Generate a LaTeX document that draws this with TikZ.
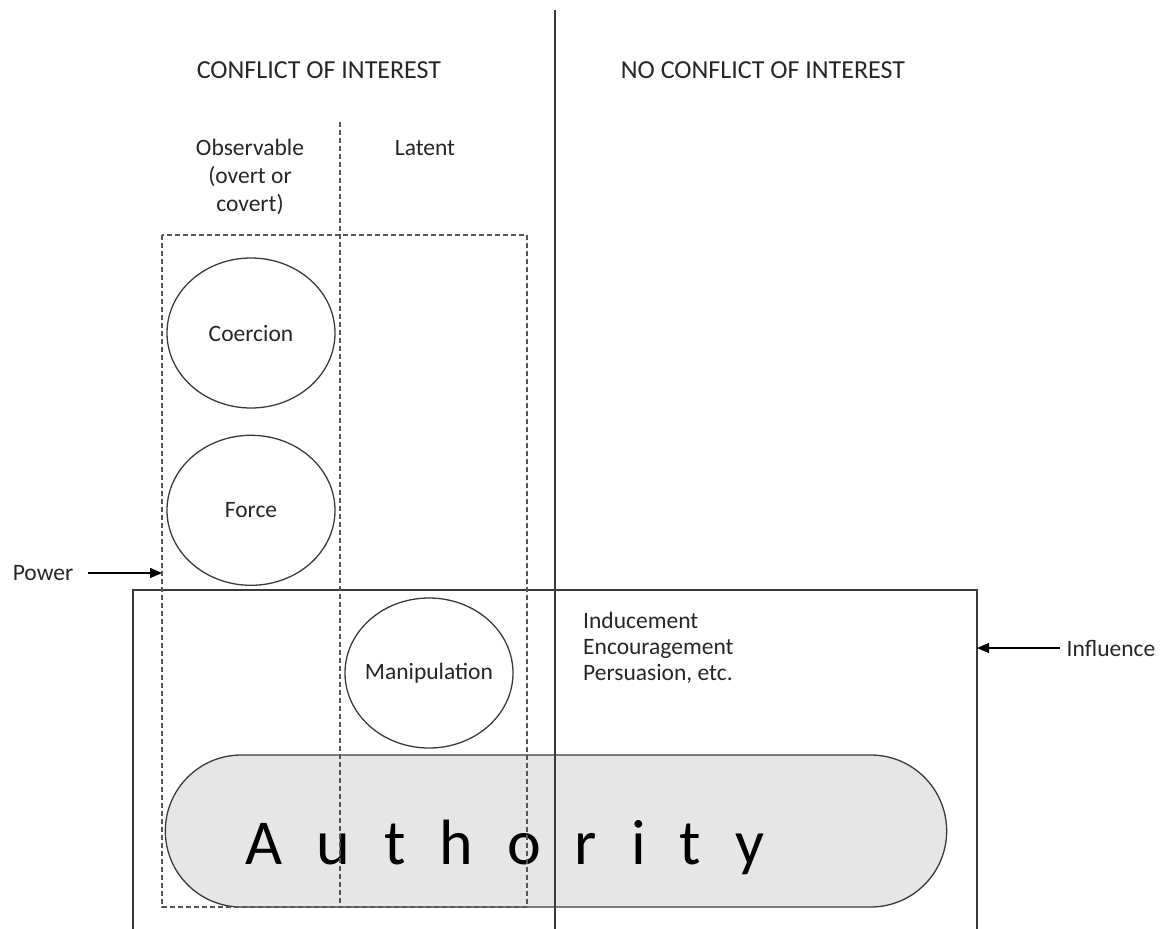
\documentclass[tikz,border=0pt]{standalone}
\usepackage{fontspec}
\setmainfont{Carlito}
\usetikzlibrary{positioning,arrows.meta,shapes.geometric,shapes.misc}
\definecolor{cPill}{HTML}{E7E6E6}
\definecolor{cLine}{HTML}{3a3a3a}
\definecolor{cDash}{HTML}{555555}
\tikzset{
  lbl/.style={font=\fontsize{23.5}{28}\selectfont,text=black!85,align=center,inner sep=0pt},
  head/.style={lbl,font=\fontsize{26}{30}\selectfont},
  tactic/.style={ellipse,draw=cLine,line width=1.3pt,lbl,inner sep=-15pt,minimum width=168pt,minimum height=150pt},
  pill/.style={rounded rectangle,draw=cLine,line width=1.3pt,fill=cPill,minimum width=788pt,minimum height=152pt},
  solidln/.style={cLine,line width=1.3pt},
  dashln/.style={cDash,line width=1.3pt,dash pattern=on 5pt off 3pt},
  sar/.style={-{Triangle[length=12pt,width=10pt]},black,line width=1.5pt},
}
\begin{document}
\begin{tikzpicture}[x=1pt,y=-1pt]
  \useasboundingbox (0,0) rectangle (1162,929);
  % authority pill first, lines run over it
  \node[pill] (auth) at (556,831) {};
  \node[inner sep=0pt,font=\fontsize{64}{70}\selectfont\addfontfeature{LetterSpace=53}] (authlbl) at (505,847) {Authority};
  % influence box, open at the bottom
  \coordinate (inflBL) at (133,929);
  \coordinate (inflTL) at (133,590);
  \coordinate (inflTR) at (977,590);
  \coordinate (inflBR) at (977,929);
  \coordinate (inflR) at (977,648);
  \draw[solidln] (inflBL) -- (inflTL) -- (inflTR) -- (inflBR);
  % power region and its split
  \coordinate (powTL) at (162,235);
  \coordinate (powBR) at (527,907);
  \coordinate (powL) at (162,573);
  \draw[dashln] (powTL) rectangle (powBR);
  \draw[dashln] (340,122) -- (340,907);
  \draw[solidln] (555,10) -- (555,929);
  % headings
  \node[head] (coi) at (319,70) {CONFLICT OF INTEREST};
  \node[head] (noc) at (763,70) {NO CONFLICT OF INTEREST};
  \node[lbl] (obs) at (250,177) {Observable\\(overt or\\covert)};
  \node[lbl] (lat) at (425,148) {Latent};
  % tactics
  \node[tactic] (coer) at (251,333) {Coercion};
  \node[tactic,below=26pt of coer] (force) {Force};
  \node[tactic] (manip) at (429,673) {Manipulation};
  \node[lbl,align=left,anchor=west,font=\fontsize{23.5}{26}\selectfont] (induce) at (583,648) {Inducement\\Encouragement\\Persuasion, etc.};
  % side labels
  \node[lbl] (pow) at (43,573) {Power};
  \node[lbl] (infl) at (1111,648) {Influence};
  \draw[sar,shorten <=15pt] (pow.east) -- (powL);
  \draw[sar,shorten <=7pt] (infl.west) -- (inflR);
\end{tikzpicture}
\end{document}
